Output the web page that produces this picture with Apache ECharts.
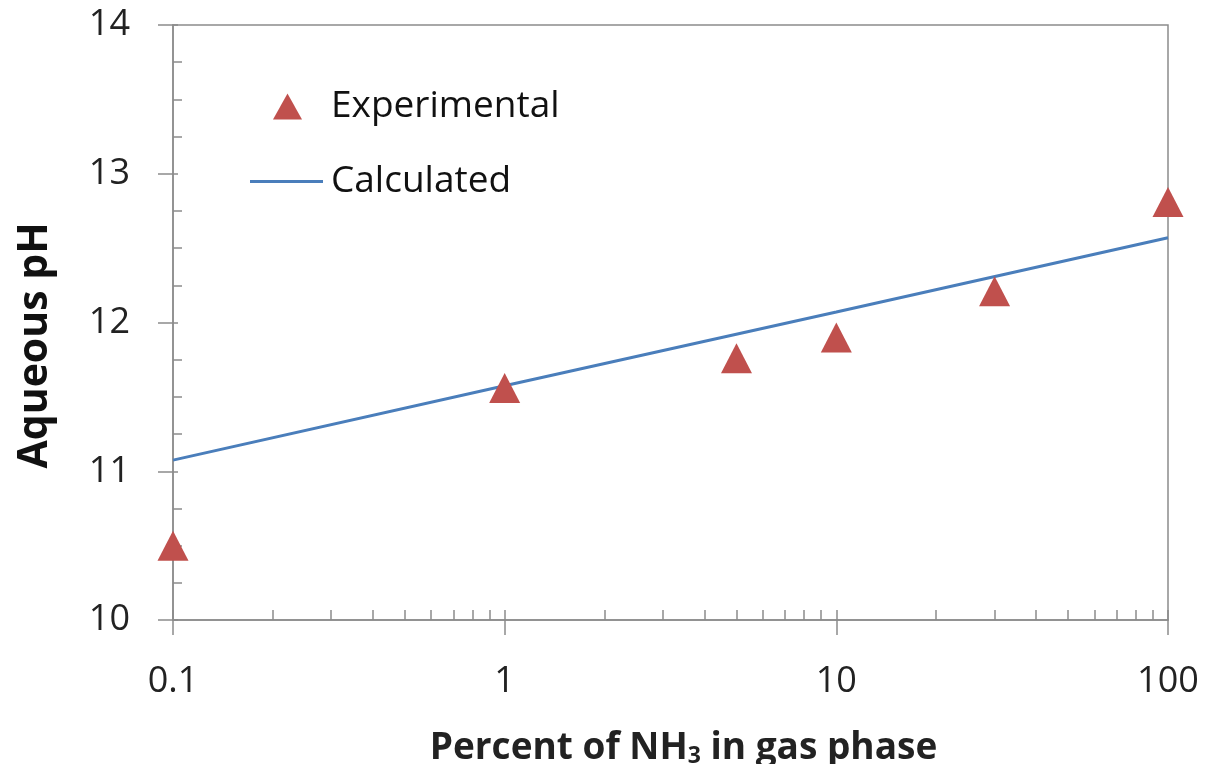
<!DOCTYPE html>
<html><head><meta charset="utf-8">
<script src="https://cdn.jsdelivr.net/npm/echarts@6/dist/echarts.min.js"></script>
<style>html,body{margin:0;padding:0;background:#fff}#c{width:1207px;height:764px}</style>
</head><body><div id="c"></div>
<script>
// Data
const expX = [0.1, 1, 5, 10, 30, 100];
const expY = [10.5, 11.56, 11.76, 11.9, 12.21, 12.81];
const calcX = [0.1, 1, 10, 100];
const calcY = [11.075, 11.575, 12.07, 12.57];
const xMajorTicks = [0.1, 1, 10, 100];
const xMinorTicks = [0.2,0.3,0.4,0.5,0.6,0.7,0.8,0.9,2,3,4,5,6,7,8,9,20,30,40,50,60,70,80,90];

const FONT = '"Open Sans", sans-serif';
const axisColor = '#8c8c8c';
const chart = echarts.init(document.getElementById('c'));
const baseX = {type:'log', logBase:10, min:0.1, max:100, position:'bottom', splitLine:{show:false}};
chart.setOption({
  animation:false,
  grid:{left:173, right:39, top:25, bottom:144, show:true, borderColor:axisColor, borderWidth:1.5,
        containLabel:false, outerBoundsMode:'none'},
  legend:[
    {data:['Experimental'], left:268, top:83, itemWidth:29, itemHeight:26, selectedMode:false,
     textStyle:{fontFamily:FONT, fontSize:37, color:'#111', padding:[0,0,0,24]}},
    {data:[{name:'Calculated', icon:'rect'}], left:245, top:158, itemWidth:73, itemHeight:3, selectedMode:false,
     textStyle:{fontFamily:FONT, fontSize:37, color:'#111', padding:[0,0,0,3]}}
  ],
  xAxis:[
    Object.assign({}, baseX, {
      axisLine:{lineStyle:{color:axisColor, width:1.5}},
      axisTick:{show:true, inside:true, length:10, customValues:xMinorTicks.concat(xMajorTicks), lineStyle:{color:axisColor, width:1.5}},
      axisLabel:{show:false},
      name:'{a|Percent of NH}{s|3}{a| in gas phase}', nameLocation:'middle', nameGap:108,
      nameTextStyle:{padding:[0,0,0,26],
        rich:{a:{fontFamily:FONT, fontWeight:'bold', fontSize:37, color:'#222'},
              s:{fontFamily:FONT, fontWeight:'bold', fontSize:23, color:'#222', verticalAlign:'bottom', padding:[17,0,0,0]}}}
    }),
    Object.assign({}, baseX, {
      axisLine:{show:false},
      axisTick:{show:true, inside:false, length:15, customValues:xMajorTicks, lineStyle:{color:axisColor, width:1.5}},
      axisLabel:{show:true, customValues:xMajorTicks, margin:44, fontFamily:FONT, fontSize:36, color:'#222',
        formatter:v=>String(v)}
    })
  ],
  yAxis:[
    {type:'value', min:10, max:14, interval:1, position:'left',
     splitLine:{show:false},
     axisLine:{show:true, lineStyle:{color:axisColor, width:1.5}},
     axisTick:{show:true, inside:true, length:5, lineStyle:{color:axisColor, width:1.5}},
     minorTick:{show:true, splitNumber:4, length:9, lineStyle:{color:axisColor, width:1.5}},
     axisLabel:{show:false},
     name:'Aqueous pH', nameLocation:'middle', nameGap:117,
     nameTextStyle:{fontFamily:FONT, fontWeight:'bold', fontSize:41, color:'#111', padding:[0,46,0,0]}},
    {type:'value', min:10, max:14, interval:1, position:'left',
     splitLine:{show:false}, axisLine:{show:false},
     axisTick:{show:true, inside:false, length:15, lineStyle:{color:axisColor, width:1.5}},
     axisLabel:{show:true, margin:43, fontFamily:FONT, fontSize:36, color:'#222'}}
  ],
  series:[
    {name:'Calculated', type:'line', xAxisIndex:0, yAxisIndex:0, symbol:'none',
     lineStyle:{color:'#4a7ebb', width:3}, itemStyle:{color:'#4a7ebb'},
     data:calcX.map((x,i)=>[x, calcY[i]])},
    {name:'Experimental', type:'scatter', xAxisIndex:0, yAxisIndex:0, symbol:'triangle', symbolSize:[31,30],
     itemStyle:{color:'#c0504d', opacity:1}, z:5,
     data:expX.map((x,i)=>[x, expY[i]])}
  ]
});
</script></body></html>
